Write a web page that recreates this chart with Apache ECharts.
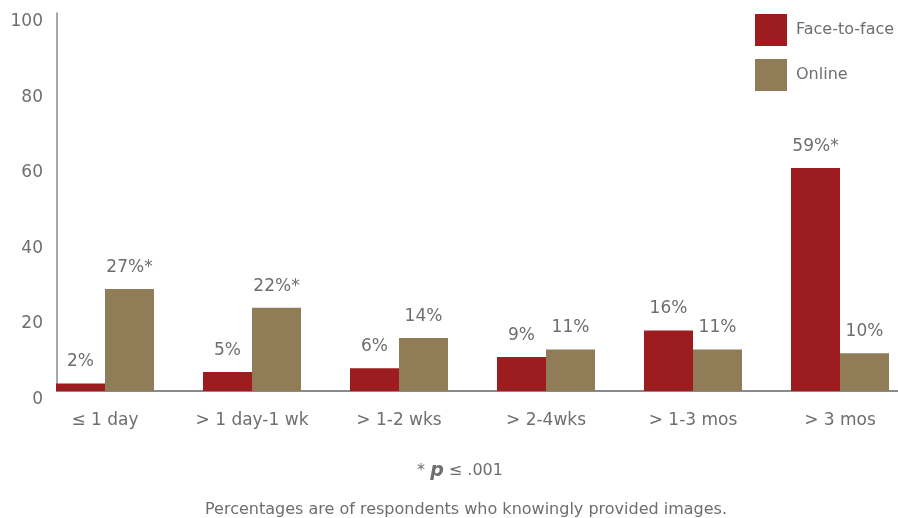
<!DOCTYPE html>
<html>
<head>
<meta charset="utf-8">
<script src="https://cdn.jsdelivr.net/npm/echarts@6/dist/echarts.min.js"></script>
<style>html,body{margin:0;padding:0;background:#fff}#c{width:898px;height:518px}</style>
</head>
<body>
<div id="c"></div>
<script>
var categories = ['\u2264 1 day', '> 1 day-1 wk', '> 1-2 wks', '> 2-4wks', '> 1-3 mos', '> 3 mos'];
var faceToFace = [2, 5, 6, 9, 16, 59];
var online = [27, 22, 14, 11, 11, 10];
var faceSig = [false, false, false, false, false, true];
var onlineSig = [true, true, false, false, false, false];
var yTicks = [0, 20, 40, 60, 80, 100];
var seriesNames = ['Face-to-face', 'Online'];

var FONT = 'DejaVu Sans';
var GREY = '#6d6e71';
var RED = '#9c1c20';
var TAN = '#907c56';

function mkLabel(sig) {
  return {
    show: true, position: 'top', distance: 13,
    color: GREY, fontFamily: FONT, fontSize: 17,
    formatter: function (p) { return p.value + '%' + (sig[p.dataIndex] ? '*' : ''); }
  };
}

var chart = echarts.init(document.getElementById('c'), null, {renderer: 'canvas'});
chart.setOption({
  animation: false,
  textStyle: {fontFamily: FONT},
  grid: [
    {left: 31.5, width: 882, top: 13, bottom: 127, outerBoundsMode: 'none', containLabel: false},
    {left: 57, right: 0, top: 13, bottom: 127, outerBoundsMode: 'none', containLabel: false}
  ],
  legend: {
    orient: 'vertical', left: 755, top: 14, padding: 0,
    itemWidth: 32, itemHeight: 32, itemGap: 13,
    icon: 'rect',
    textStyle: {color: GREY, fontFamily: FONT, fontSize: 16, padding: [0, 0, 0, 4]},
    data: seriesNames
  },
  xAxis: [
    {
      type: 'category', gridIndex: 0, data: categories,
      axisLine: {show: false}, axisTick: {show: false},
      axisLabel: {color: GREY, fontFamily: FONT, fontSize: 17, margin: 21, interval: 0}
    },
    {
      type: 'value', gridIndex: 1, min: 0, max: 1,
      axisLine: {show: true, onZero: false, lineStyle: {color: '#8a8a8d', width: 2}},
      axisTick: {show: false}, axisLabel: {show: false}, splitLine: {show: false}
    }
  ],
  yAxis: [
    {
      type: 'value', gridIndex: 0, min: 0, max: 100, interval: 20,
      axisLine: {show: false}, axisTick: {show: false}, axisLabel: {show: false}, splitLine: {show: false}
    },
    {
      type: 'value', gridIndex: 1, min: yTicks[0], max: yTicks[yTicks.length - 1], interval: 20,
      axisLine: {show: true, lineStyle: {color: '#8a8a8d', width: 1.5}},
      axisTick: {show: false}, splitLine: {show: false},
      axisLabel: {color: GREY, fontFamily: FONT, fontSize: 17, margin: 14, verticalAlign: 'top'}
    }
  ],
  series: [
    {
      name: seriesNames[0], type: 'bar', xAxisIndex: 0, yAxisIndex: 0,
      data: faceToFace, barWidth: 49, barGap: '0%',
      itemStyle: {color: RED}, label: mkLabel(faceSig)
    },
    {
      name: seriesNames[1], type: 'bar', xAxisIndex: 0, yAxisIndex: 0,
      data: online, barWidth: 49, barGap: '0%',
      itemStyle: {color: TAN}, label: mkLabel(onlineSig)
    }
  ],
  graphic: [
    {
      type: 'text', x: 460, y: 471,
      style: {
        text: '{a|* }{p|p}{a| \u2264 .001}',
        align: 'center', verticalAlign: 'middle',
        rich: {
          a: {fontFamily: FONT, fontSize: 16, fill: GREY, color: GREY},
          p: {fontFamily: FONT, fontSize: 19, fontStyle: 'italic', fontWeight: 'bold', fill: GREY, color: GREY}
        }
      }
    },
    {
      type: 'text', x: 466, y: 510,
      style: {
        text: 'Percentages are of respondents who knowingly provided images.',
        align: 'center', verticalAlign: 'middle',
        fontFamily: FONT, fontSize: 16, fill: GREY
      }
    }
  ]
});
</script>
</body>
</html>
